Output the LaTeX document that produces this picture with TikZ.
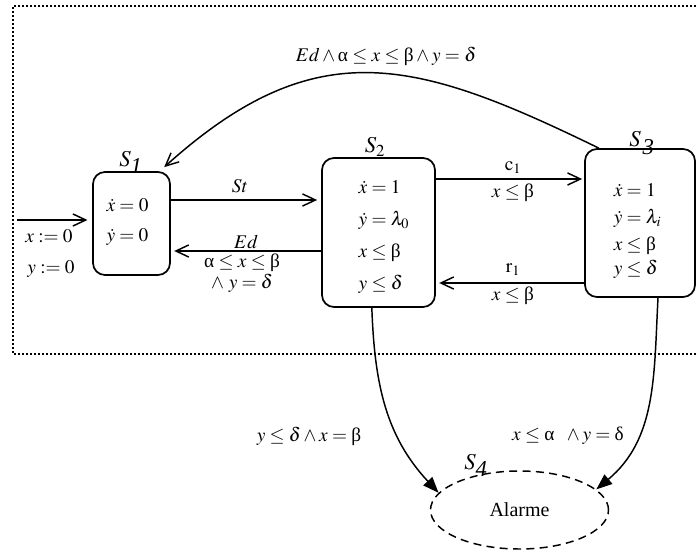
\documentclass[tikz,border=0pt]{standalone}
\usepackage{mathptmx}
\usepackage{fontspec}
\setmainfont{Liberation Serif}
\usetikzlibrary{arrows.meta, shapes.geometric, calc}
\newcommand{\ua}{\mbox{α}}
\newcommand{\ub}{\mbox{β}}
\newcommand{\ud}{\mbox{δ}}

\begin{document}
\begin{tikzpicture}[
    x=0.75pt, y=-0.75pt,
    state/.style={draw, line width=1.3pt, rounded corners=9pt, inner sep=0pt},
    alarm/.style={draw, ellipse, line width=1.1pt, dash pattern=on 6pt off 4pt,
                  inner sep=0pt, minimum width=133.5pt, minimum height=58.5pt,
                  font=\fontsize{15}{18}\selectfont},
    inv/.style={align=left, inner sep=0pt, font=\fontsize{14.5}{17}\selectfont},
    slbl/.style={inner sep=0pt, font=\fontsize{17}{20}\selectfont},
    elbl/.style={inner sep=0pt, font=\fontsize{14.5}{17}\selectfont},
    ar/.style={-{Straight Barb[length=3.4mm, width=3.2mm]}, line width=1.1pt},
    fa/.style={-{Triangle[length=4.2mm, width=3.2mm]}, line width=1.1pt},
    frame/.style={line width=1.2pt, dash pattern=on 1.2pt off 1.8pt},
  ]
    \useasboundingbox (0,0) rectangle (696,552);

    % =================== cadre pointille ===================
    \draw[frame] (696,6) -- (13,6) -- (13,354) -- (696,354);

    % =================== etats ===================
    \node[state, minimum width=57.75pt, minimum height=77.25pt]  (s1) at (131.5,223.5) {};
    \node[state, minimum width=84.75pt, minimum height=111.75pt] (s2) at (378.5,232.5) {};
    \node[state, minimum width=82.5pt,  minimum height=111pt]    (s3) at (640,223) {};
    \node[alarm] (s4) at (519.5,510) {Alarme};

    \node[slbl] (l1) at (131,162) {$S_{\textit{1}}$};
    \node[slbl] (l2) at (375,147) {$S_2$};
    \node[slbl] (l3) at (642,143) {$S_{\,\textit{3}}$};
    \node[slbl] (l4) at (476,465) {$S_{\textit{4}}$};

    % contenu des etats
    \node[inv] (s1in) at (127.5,222) {$\dot{x} = 0$\\[5.5pt] $\dot{y} = 0$};
    \node[inv] (s2in) at (384,237.5) {$\dot{x} = 1$\\[7pt] $\dot{y} = \lambda_0$\\[7pt]
                                      $x \le \ub$\\[7pt] $y \le \delta$};
    \node[inv] (s3in) at (637.5,231) {$\dot{x} = 1$\\[3pt] $\dot{y} = \lambda_i$\\[3pt]
                                      $x \le \ub$\\[1pt] $y \le \delta$};

    % =================== transitions ===================
    \coordinate (init) at (17,220);
    \draw[ar, shorten >=3.5pt] (init) -- (init -| s1.west);
    \node[elbl] (ix) at (49,236) {$x \mathrel{:=} 0$};
    \node[elbl] (iy) at (51,269) {$y \mathrel{:=} 0$};

    \draw[ar, shorten >=3pt] (s1.east |- 0,200) -- (s2.west |- 0,200);
    \node[elbl] (st) at (240,186) {$St$};
    \draw[ar, shorten >=2.5pt] (s2.west |- 0,251) -- (s1.east |- 0,251);
    \node[elbl] (ed)  at (246,242) {$Ed$};
    \node[elbl] (ed2) at (242,263) {$\ua \le x \le \ub$};
    \node[elbl] (ed3) at (242,283) {$\wedge\ y = \delta$};

    \draw[ar, shorten >=1.5pt] (s2.east |- 0,179) -- (s3.west |- 0,179);
    \node[elbl] (c1)  at (513,168) {$\mathrm{c}_1$};
    \node[elbl] (c1g) at (513,193) {$x \le \ub$};
    \draw[ar, shorten >=2.5pt] (s3.west |- 0,283) -- (s2.east |- 0,283);
    \node[elbl] (r1)  at (513,270) {$\mathrm{r}_1$};
    \node[elbl] (r1g) at (513,296) {$x \le \ub$};

    % retour S3 -> S1
    \draw[ar] ([xshift=11pt]s3.north west) to[out=154, in=42, looseness=1.2]
              ([xshift=-5pt, yshift=3pt]s1.north east);
    \node[elbl] (back) at (386,56) {$Ed \wedge \ua \le x \le \ub \wedge y = \delta$};

    % vers l'alarme
    \draw[fa] ([xshift=-5pt]s2.south) to[out=-88, in=133] (s4.168);
    \node[elbl] (al2) at (309,436) {$y \le \delta \wedge x = \ub$};
    \draw[fa] ([xshift=13.5pt]s3.south) to[out=-93, in=40] (s4.15);
    \node[elbl] (al3) at (568,436) {$x \le \ua\ \ \wedge y = \ud$};
  \end{tikzpicture}
\end{document}
